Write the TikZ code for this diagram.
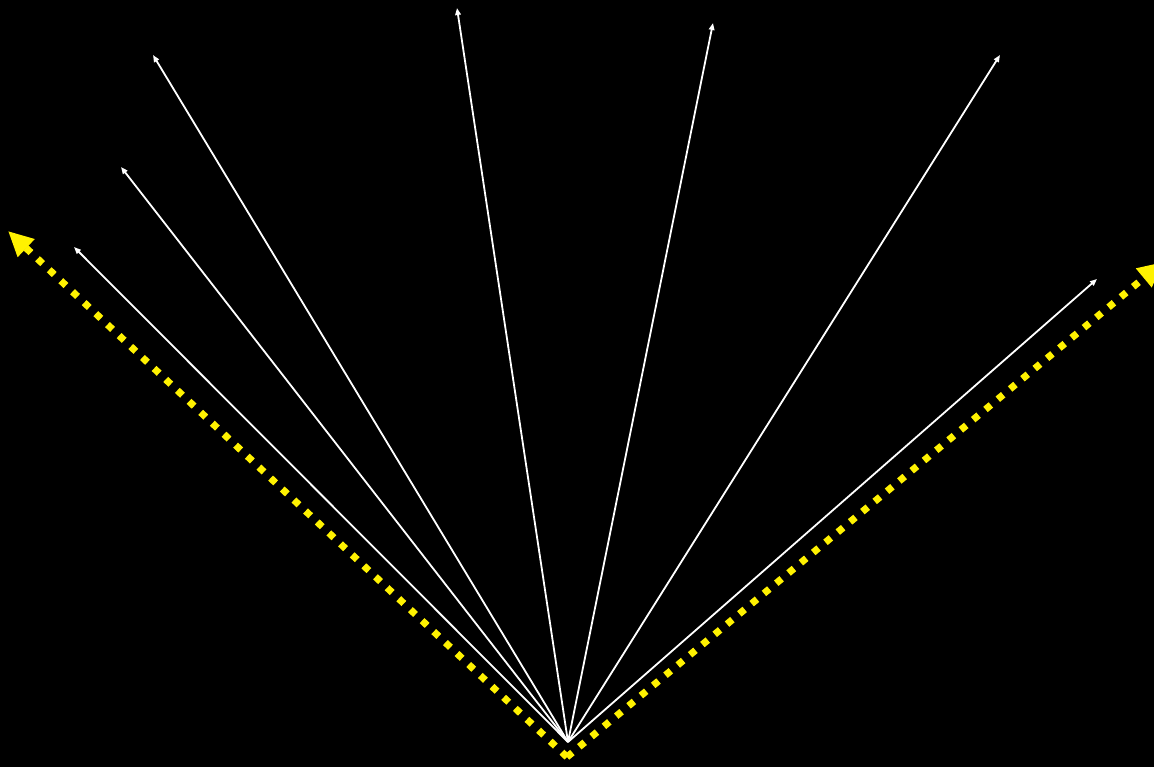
\documentclass[tikz,border=0pt]{standalone}
\usetikzlibrary{arrows.meta}
\begin{document}
\begin{tikzpicture}[x=1pt,y=-1pt,
  ray/.style={draw=white,line width=1.8pt,-{Triangle[length=7pt,width=5.5pt]}},
  edge/.style={draw=yellow,line width=7pt,dash pattern=on 7pt off 9pt,-{Triangle[length=25pt,width=23pt,line cap=butt]}}]
\fill[black] (0,0) rectangle (1154,767);
\useasboundingbox (0,0) rectangle (1154,767);
\coordinate (o) at (568,742);
\coordinate (oy) at (567,757);
\coordinate (a1) at (74,247);
\coordinate (a2) at (121,167);
\coordinate (a3) at (153,55);
\coordinate (a4) at (457,8);
\coordinate (a5) at (713,23);
\coordinate (a6) at (1000,55);
\coordinate (a7) at (1097,279);
\coordinate (yl) at (8,231);
\coordinate (yr) at (1163,262);
\foreach \p in {a1,a2,a3,a4,a5,a6,a7} \draw[ray] (o) -- (\p);
\draw[edge] (oy) -- (yl);
\draw[edge] (oy) -- (yr);
\end{tikzpicture}
\end{document}
